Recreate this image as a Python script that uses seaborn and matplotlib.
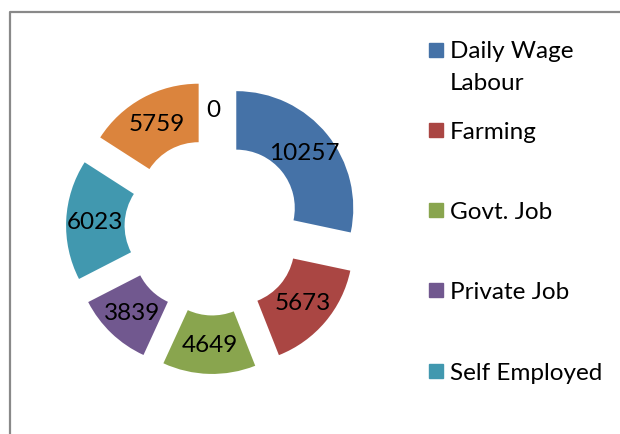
import textwrap
import matplotlib
matplotlib.use("Agg")
import matplotlib.pyplot as plt
import seaborn as sns
from matplotlib.patches import Rectangle
from matplotlib.lines import Line2D

# occupation counts, read clockwise from 12 o'clock
categories = ["Daily Wage Labour", "Farming", "Govt. Job", "Private Job",
              "Self Employed", "Others", "Unemployed"]
values = [10257, 5673, 4649, 3839, 6023, 5759, 0]
colors = ["#4572A7", "#AA4643", "#89A54E", "#71588F", "#4198AF", "#DB843D", "#93A9CF"]
n_legend = 5  # the legend box only shows the first five entries

W, H = 620, 435

sns.set_theme(style="white")
plt.rcParams["font.family"] = ["Lato", "DejaVu Sans"]

fig = plt.figure(figsize=(W / 100, H / 100), dpi=100)
fig.patch.set_facecolor("white")

# pie axes, square in pixels, centred at (213, 228)
ax = fig.add_axes([13 / W, 7 / H, 400 / W, 400 / H])
total = sum(values)
wedges, texts, autotexts = ax.pie(
    values,
    colors=colors,
    startangle=90,
    counterclock=False,
    explode=[0.256] * len(values),
    wedgeprops=dict(width=0.5, linewidth=0),
    autopct=lambda p: f"{round(p * total / 100):.0f}",
    pctdistance=0.75,
    textprops=dict(fontsize=17.5, color="black"),
)
lim = 200 / 117
ax.set_xlim(-lim, lim)
ax.set_ylim(-lim, lim)
ax.set_aspect("auto")
ax.axis("off")

# legend drawn by hand so the square sits on the first text line
for i in range(n_legend):
    yc = 50.5 + 80.3 * i
    label = textwrap.fill(categories[i], 13)
    extra = 32 * label.count("\n")  # baseline is the last line's
    fig.patches.append(Rectangle((429 / W, 1 - (yc + 7) / H), 14 / W, 14 / H,
                                 transform=fig.transFigure, color=colors[i]))
    fig.text(450 / W, 1 - (yc + 8 + extra) / H, label,
             fontsize=17.5, va="baseline", ha="left", color="black",
             linespacing=1.7)

# chart area border (right and bottom run off the image)
fig.lines.append(Line2D([9.5 / W, 9.5 / W, 1], [0, 1 - 13 / H, 1 - 13 / H],
                        transform=fig.transFigure, color="#898989", lw=1.6))

fig.savefig("out.png", dpi=100)
